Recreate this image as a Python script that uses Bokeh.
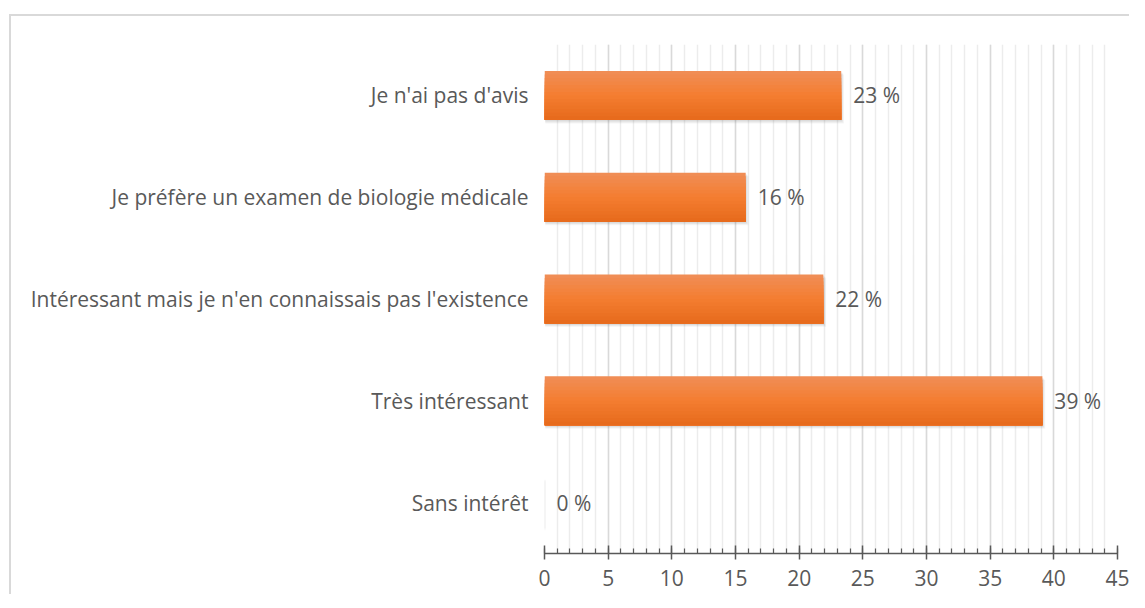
from bokeh.plotting import figure
from bokeh.models import Range1d, FixedTicker, SingleIntervalTicker, ColumnDataSource
from bokeh.core.properties import value
from bokeh.embed import file_html
from bokeh.resources import INLINE

categories = ["Sans intérêt", "Très intéressant",
              "Intéressant mais je n'en connaissais pas l'existence",
              "Je préfère un examen de biologie médicale", "Je n'ai pas d'avis"]
values = [0, 39.1, 21.9, 15.8, 23.3]
labels = ["0 %", "39 %", "22 %", "16 %", "23 %"]

FONT = "Open Sans"
TXT = "#595959"
FS = "21px"
pos = list(range(len(categories)))

p = figure(width=1120, height=580, output_backend="svg", toolbar_location=None,
           x_range=Range1d(0, 45), y_range=Range1d(-0.5, len(categories) - 0.5),
           min_border_left=533, min_border_right=14, min_border_top=28, min_border_bottom=43)
p.styles = {"border-top": "2px solid #d9d9d9", "border-left": "2px solid #d9d9d9",
            "margin-top": "14px", "margin-left": "9px"}
p.outline_line_color = None
p.background_fill_color = "white"
p.border_fill_color = "white"

# grid
p.ygrid.grid_line_color = None
p.xgrid.ticker = SingleIntervalTicker(interval=5, num_minor_ticks=5)
p.xgrid.grid_line_color = "#d9d9d9"
p.xgrid.grid_line_width = 1.5
p.xgrid.minor_grid_line_color = "#ececec"
p.xgrid.minor_grid_line_width = 1.5

# x axis
p.xaxis.ticker = SingleIntervalTicker(interval=5, num_minor_ticks=5)
p.xaxis.axis_line_color = "#595959"
p.xaxis.axis_line_width = 1.5
p.xaxis.major_tick_line_color = "#595959"
p.xaxis.major_tick_line_width = 1.5
p.xaxis.major_tick_in = 8
p.xaxis.major_tick_out = 6
p.xaxis.minor_tick_line_color = "#595959"
p.xaxis.minor_tick_line_width = 1.2
p.xaxis.minor_tick_in = 5
p.xaxis.minor_tick_out = 0
p.xaxis.major_label_text_font = FONT
p.xaxis.major_label_text_font_size = FS
p.xaxis.major_label_text_color = TXT
p.xaxis.major_label_standoff = 10

# y axis
p.yaxis.ticker = FixedTicker(ticks=pos)
p.yaxis.major_label_overrides = {i: c for i, c in zip(pos, categories)}
p.yaxis.axis_line_color = None
p.yaxis.major_tick_line_color = None
p.yaxis.minor_tick_line_color = None
p.yaxis.major_label_text_font = FONT
p.yaxis.major_label_text_font_size = FS
p.yaxis.major_label_text_color = TXT
p.yaxis.major_label_standoff = 10

H = 0.48
# soft shadow below/right of bars
for dy, dx, al in [(0.035, 0.22, 0.07), (0.025, 0.15, 0.10), (0.015, 0.08, 0.14)]:
    sh = ColumnDataSource(dict(y=[y - dy for y in pos],
                               right=[v + dx if v > 0 else 0 for v in values]))
    p.hbar(y="y", left=0.06, right="right", height=H, source=sh,
           fill_color="#7f7f7f", fill_alpha=al, line_color=None)

# gradient bars as overlapping strips
top = (0xf0, 0x8e, 0x58)
mid = (0xf4, 0x7d, 0x30)
bot = (0xe6, 0x6a, 0x1c)
N = 14
for k in range(N):
    t = (k + 0.5) / N  # 0 top -> 1 bottom
    if t < 0.5:
        a, b, f = top, mid, t / 0.5
    else:
        a, b, f = mid, bot, (t - 0.5) / 0.5
    col = "#%02x%02x%02x" % tuple(int(round(a[i] + (b[i] - a[i]) * f)) for i in range(3))
    if k == 0:
        off, hh = 0.0, H
    else:
        top_edge = H / 2 - k * H / N
        hh = top_edge + H / 2
        off = top_edge - hh / 2
    src = ColumnDataSource(dict(y=[y + off for y in pos], right=values))
    p.hbar(y="y", left=0, right="right", height=hh, source=src,
           fill_color=col, line_color=None)

lab = ColumnDataSource(dict(x=values, y=pos, t=labels))
p.text(x="x", y="y", text="t", source=lab, x_offset=12, text_baseline="middle",
       text_align="left", text_font=value(FONT), text_font_size=FS, text_color=TXT)

open("out.html", "w").write(file_html(p, INLINE))
